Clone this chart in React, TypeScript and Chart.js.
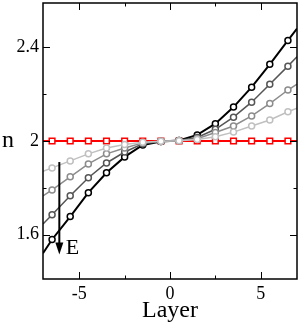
import React, { useEffect, useRef } from "react";
import { Chart, registerables } from "chart.js";

Chart.register(...registerables);

// Layer positions (edge values at ±7 are where the curves meet the frame)
const layers = [-7, -6.5, -5.5, -4.5, -3.5, -2.5, -1.5, -0.5, 0.5, 1.5, 2.5, 3.5, 4.5, 5.5, 6.5, 7];
const nBlack = [1.52, 1.579, 1.677, 1.779, 1.864, 1.932, 1.983, 1.998, 2.002, 2.026, 2.074, 2.145, 2.23, 2.328, 2.43, 2.48];
const nDark = [1.645, 1.685, 1.766, 1.843, 1.906, 1.953, 1.988, 1.998, 2.002, 2.015, 2.05, 2.102, 2.166, 2.243, 2.32, 2.36];
const nMid = [1.765, 1.791, 1.847, 1.902, 1.945, 1.97, 1.992, 1.999, 2.001, 2.01, 2.036, 2.064, 2.107, 2.16, 2.218, 2.243];
const nLight = [1.87, 1.885, 1.915, 1.945, 1.97, 1.985, 1.995, 1.999, 2.001, 2.006, 2.018, 2.038, 2.064, 2.09, 2.125, 2.14];
const nRef = [2, 2, 2, 2, 2, 2, 2, 2, 2, 2, 2, 2, 2, 2, 2, 2];

const xTicks = [-5, 0, 5];
const xMinor = [-2.5, 2.5];
const yTicks = [1.6, 2, 2.4];
const yMinor = [1.8, 2.2];

const FONT = "'Liberation Serif', 'Times New Roman', serif";

export default function App() {
  const ref = useRef<HTMLCanvasElement | null>(null);

  useEffect(() => {
    const canvas = ref.current;
    if (!canvas) return;
    const radii = layers.map((_, i) => (i === 0 || i === layers.length - 1 ? 0 : 3));
    const mk = (vals: number[], color: string, bw: number) => ({
      data: layers.map((x, i) => ({ x, y: vals[i] })),
      borderColor: color,
      borderWidth: bw,
      pointStyle: "circle" as const,
      pointRadius: radii,
      pointBackgroundColor: "#ffffff",
      pointBorderColor: color,
      pointBorderWidth: 1.5,
      tension: 0,
    });

    const framePlugin = {
      id: "frame",
      afterDraw(chart: any) {
        const { ctx, chartArea: a, scales } = chart;
        const xs = scales.x;
        const ys = scales.y;
        ctx.save();
        ctx.strokeStyle = "#000";
        ctx.lineWidth = 1.5;
        ctx.strokeRect(a.left, a.top, a.right - a.left, a.bottom - a.top);
        ctx.lineWidth = 1;
        const tick = (vals: number[], len: number) => {
          vals.forEach((v) => {
            const px = Math.round(xs.getPixelForValue(v)) + 0.5;
            ctx.beginPath();
            ctx.moveTo(px, a.bottom);
            ctx.lineTo(px, a.bottom - len);
            ctx.moveTo(px, a.top);
            ctx.lineTo(px, a.top + len);
            ctx.stroke();
          });
        };
        const ytick = (vals: number[], len: number) => {
          vals.forEach((v) => {
            const py = Math.round(ys.getPixelForValue(v)) + 0.5;
            ctx.beginPath();
            ctx.moveTo(a.left, py);
            ctx.lineTo(a.left + len, py);
            ctx.moveTo(a.right, py);
            ctx.lineTo(a.right - len, py);
            ctx.stroke();
          });
        };
        tick(xTicks, 7);
        tick(xMinor, 3.5);
        ytick(yTicks, 7);
        ytick(yMinor, 3.5);

        // arrow annotation
        const ax = xs.getPixelForValue(-6.1);
        const ay0 = ys.getPixelForValue(1.91);
        const ay1 = ys.getPixelForValue(1.515);
        ctx.lineWidth = 2;
        ctx.beginPath();
        ctx.moveTo(ax, ay0);
        ctx.lineTo(ax, ay1 - 8);
        ctx.stroke();
        ctx.fillStyle = "#000";
        ctx.beginPath();
        ctx.moveTo(ax - 4, ay1 - 12);
        ctx.lineTo(ax + 4, ay1 - 12);
        ctx.lineTo(ax, ay1);
        ctx.closePath();
        ctx.fill();

        ctx.font = `22px ${FONT}`;
        ctx.textAlign = "left";
        ctx.textBaseline = "alphabetic";
        ctx.fillText("E", xs.getPixelForValue(-5.75), ay1);

        // axis titles
        ctx.font = `24px ${FONT}`;
        ctx.textAlign = "center";
        ctx.fillText("Layer", (a.left + a.right) / 2, 317);
        ctx.textAlign = "left";
        ctx.fillText("n", 2, ys.getPixelForValue(2) + 6);
        ctx.restore();
      },
    };

    const chart = new Chart(canvas, {
      type: "line",
      data: {
        datasets: [
          mk(nLight, "#c0c0c0", 1.5),
          mk(nMid, "#8c8c8c", 1.5),
          mk(nDark, "#555555", 1.5),
          mk(nBlack, "#000000", 2),
          {
            data: layers.map((x, i) => ({ x, y: nRef[i] })),
            borderColor: "#ff0000",
            borderWidth: 2,
            pointStyle: "rect",
            pointRadius: radii.map((r) => (r ? 4 : 0)),
            pointBackgroundColor: "#ffffff",
            pointBorderColor: "#ff0000",
            pointBorderWidth: 1.5,
            tension: 0,
          },
        ],
      },
      options: {
        responsive: false,
        animation: false,
        layout: { padding: { top: 3, right: 3, left: 0, bottom: 0 } },
        plugins: { legend: { display: false }, tooltip: { enabled: false } },
        scales: {
          x: {
            type: "linear",
            min: -7,
            max: 7,
            grid: { display: false, drawTicks: false },
            border: { display: false },
            afterBuildTicks: (s: any) => {
              s.ticks = xTicks.map((v) => ({ value: v }));
            },
            afterFit: (s: any) => {
              s.height = 46;
              s.paddingLeft = 0;
              s.paddingRight = 0;
            },
            ticks: {
              padding: 4,
              color: "#000",
              font: { family: FONT, size: 18 },
              callback: (v: any) => String(v),
            },
          },
          y: {
            type: "linear",
            min: 1.41,
            max: 2.59,
            grid: { display: false, drawTicks: false },
            border: { display: false },
            afterBuildTicks: (s: any) => {
              s.ticks = yTicks.map((v) => ({ value: v }));
            },
            afterFit: (s: any) => {
              s.width = 43;
              s.paddingTop = 0;
              s.paddingBottom = 0;
            },
            ticks: {
              padding: 4,
              color: "#000",
              font: { family: FONT, size: 18 },
              callback: (v: any) => String(Math.round(Number(v) * 10) / 10),
            },
          },
        },
      },
      plugins: [framePlugin],
    } as any);
    return () => chart.destroy();
  }, []);

  return (
    <div style={{ position: "absolute", left: 0, top: 0, width: 300, height: 325, background: "#fff" }}>
      <canvas ref={ref} width={300} height={325} style={{ display: "block" }} />
    </div>
  );
}
